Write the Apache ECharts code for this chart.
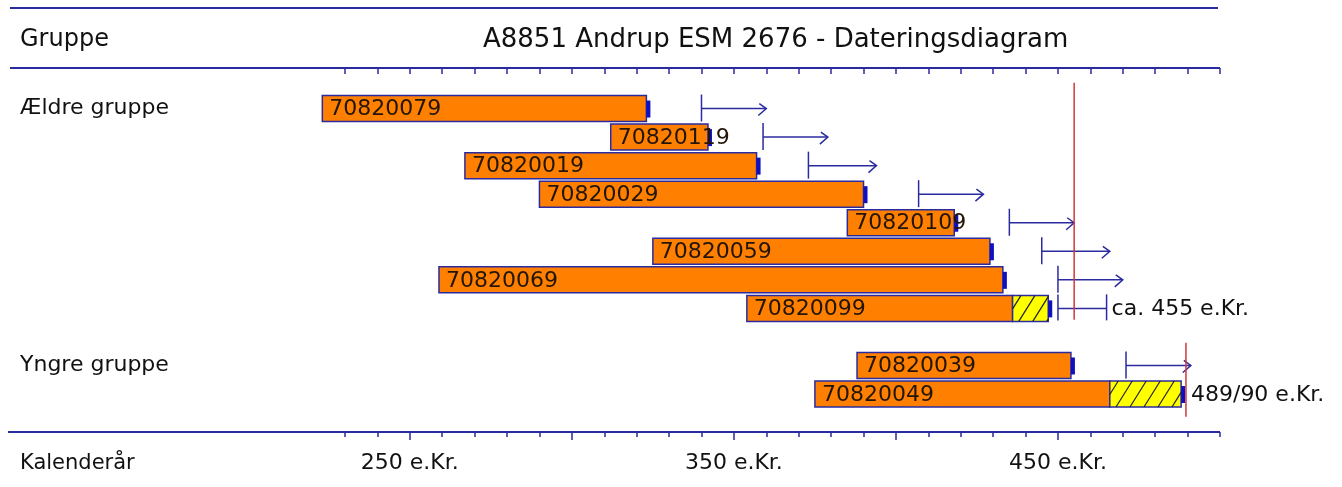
<!DOCTYPE html>
<html>
<head>
<meta charset="utf-8">
<script src="https://cdn.jsdelivr.net/npm/echarts@6/dist/echarts.min.js"></script>
<style>
  html, body { margin: 0; padding: 0; background: #fff; }
  #main { width: 1342px; height: 487px; }
</style>
</head>
<body>
<div id="main"></div>
<script>
// samples (one row each), rows 0-7 = Ældre gruppe, 9-10 = Yngre gruppe
var sampleIds = ['70820079', '70820119', '70820019', '70820029', '70820109', '70820059', '70820069', '70820099', '70820039', '70820049'];
var sampleRows = [0, 1, 2, 3, 4, 5, 6, 7, 9, 10];
var startYears = [223, 312, 267, 290, 385, 325, 259, 354, 388, 375];
var endYears = [323, 342, 357, 390, 418, 429, 433, 436, 454, 466];
var sapEndYears = [0, 0, 0, 0, 0, 0, 0, 447, 0, 488]; // 0 = no sapwood
// "felled after" arrows
var arrowRows = [0, 1, 2, 3, 4, 5, 6, 9];
var arrowFrom = [340, 359, 373, 407, 435, 445, 450, 471];
var arrowTo = [360, 379, 394, 427, 455, 466, 470, 491];
// felling interval bracket
var bracketRows = [7];
var bracketFrom = [450];
var bracketTo = [465];
// felling dates (red lines)
var fellingYears = [455, 489.5];
var fellingRowFrom = [-0.9, 8.2];
var fellingRowTo = [7.4, 10.8];
var fellingTexts = ['ca. 455 e.Kr.', '489/90 e.Kr.'];
var fellingTextYears = [465, 489.5];
var fellingTextRows = [7, 10];

var groupNames = ['Ældre gruppe', 'Yngre gruppe'];
var groupRows = [0, 9];
var yearLabels = [250, 350, 450];
var majorTicks = [250, 300, 350, 400, 450];

var NAVY = '#2b2ba0';
var FONT = 'DejaVu Sans';

var chart = echarts.init(document.getElementById('main'));

function renderSample(params, api) {
  var s = api.value(0), e = api.value(1), sap = api.value(2), r = api.value(3);
  var p0 = api.coord([s, r]);
  var p1 = api.coord([e, r]);
  var h = 26;
  var cy = p0[1];
  var y0 = cy - h / 2;
  var kids = [];
  var endX = p1[0];
  kids.push({
    type: 'rect',
    shape: { x: p0[0], y: y0, width: p1[0] - p0[0], height: h },
    style: { fill: '#ff8000', stroke: NAVY, lineWidth: 1.5 }
  });
  if (sap > 0) {
    var p2 = api.coord([sap, r]);
    var x0 = p1[0], x1 = p2[0], yt = y0, yb = y0 + h;
    kids.push({
      type: 'rect',
      shape: { x: x0, y: yt, width: x1 - x0, height: h },
      style: { fill: '#ffff00', stroke: NAVY, lineWidth: 1.5 }
    });
    // hatch "/"
    var k = 1.6, step = 14 * k;
    for (var c = k * x0 + yt + step * 0.6; c < k * x1 + yb; c += step) {
      var xa = Math.max(x0, (c - yb) / k);
      var xb = Math.min(x1, (c - yt) / k);
      if (xb > xa) {
        kids.push({
          type: 'line',
          shape: { x1: xa, y1: c - k * xa, x2: xb, y2: c - k * xb },
          style: { stroke: '#202020', lineWidth: 1.2 }
        });
      }
    }
    endX = x1;
  }
  kids.push({
    type: 'rect',
    shape: { x: endX, y: cy - 8, width: 4, height: 17 },
    style: { fill: '#1010c0' }
  });
  kids.push({
    type: 'text',
    style: {
      x: p0[0] + 7, y: cy + 1, text: sampleIds[params.dataIndex],
      fill: '#231508', font: '22px "' + FONT + '"',
      verticalAlign: 'middle', align: 'left'
    },
    z2: 10
  });
  return { type: 'group', children: kids };
}

function renderArrow(params, api) {
  var a = api.coord([api.value(0), api.value(2)]);
  var b = api.coord([api.value(1), api.value(2)]);
  var st = { stroke: NAVY, lineWidth: 1.5 };
  return {
    type: 'group',
    children: [
      { type: 'line', shape: { x1: a[0], y1: a[1] - 14, x2: a[0], y2: a[1] + 13 }, style: st },
      { type: 'line', shape: { x1: a[0], y1: a[1], x2: b[0], y2: b[1] }, style: st },
      { type: 'polyline', shape: { points: [[b[0] - 7, b[1] - 5], [b[0], b[1]], [b[0] - 8, b[1] + 7]] }, style: { stroke: NAVY, lineWidth: 1.5, fill: null } }
    ]
  };
}

function renderBracket(params, api) {
  var a = api.coord([api.value(0), api.value(2)]);
  var b = api.coord([api.value(1), api.value(2)]);
  var st = { stroke: NAVY, lineWidth: 1.5 };
  return {
    type: 'group',
    children: [
      { type: 'line', shape: { x1: a[0], y1: a[1] - 14, x2: a[0], y2: a[1] + 12 }, style: st },
      { type: 'line', shape: { x1: b[0], y1: b[1] - 14, x2: b[0], y2: b[1] + 12 }, style: st },
      { type: 'line', shape: { x1: a[0], y1: a[1], x2: b[0], y2: b[1] }, style: st }
    ]
  };
}

function renderFelling(params, api) {
  var i = params.dataIndex;
  var a = api.coord([api.value(0), api.value(1)]);
  var b = api.coord([api.value(0), api.value(2)]);
  var t = api.coord([api.value(3), api.value(4)]);
  return {
    type: 'group',
    children: [
      { type: 'line', shape: { x1: a[0], y1: a[1], x2: b[0], y2: b[1] }, style: { stroke: '#d03838', lineWidth: 1.5 }, z2: 20 },
      { type: 'text', style: { x: t[0] + 5, y: t[1] + 1, text: fellingTexts[i], fill: '#111', font: '22px "' + FONT + '"', verticalAlign: 'middle' } }
    ]
  };
}

var sampleData = sampleIds.map(function (id, i) {
  return [startYears[i], endYears[i], sapEndYears[i], sampleRows[i]];
});
var arrowData = arrowRows.map(function (r, i) { return [arrowFrom[i], arrowTo[i], r]; });
var bracketData = bracketRows.map(function (r, i) { return [bracketFrom[i], bracketTo[i], r]; });
var fellingData = fellingYears.map(function (y, i) {
  return [y, fellingRowFrom[i], fellingRowTo[i], fellingTextYears[i], fellingTextRows[i]];
});

var option = {
  animation: false,
  backgroundColor: '#fff',
  title: {
    text: 'A8851 Andrup ESM 2676 - Dateringsdiagram',
    left: 478,
    top: 22,
    textStyle: { fontFamily: FONT, fontSize: 26, fontWeight: 'normal', color: '#111' }
  },
  grid: { left: 345, right: 122, top: 68, bottom: 55 },
  xAxis: [{
    type: 'value', position: 'bottom', min: 230, max: 500, interval: 10,
    axisLine: { show: false, onZero: false },
    axisTick: { show: true, length: 5, lineStyle: { color: NAVY, width: 1.5 } },
    axisLabel: {
      customValues: yearLabels, margin: 20,
      formatter: function (v) { return v + ' e.Kr.'; },
      fontFamily: FONT, fontSize: 22, color: '#111'
    },
    splitLine: { show: false }
  }, {
    type: 'value', position: 'bottom', min: 230, max: 500,
    axisLine: { show: false, onZero: false },
    axisTick: { show: true, customValues: majorTicks, length: 8, lineStyle: { color: NAVY, width: 1.5 } },
    axisLabel: { show: false },
    splitLine: { show: false }
  }, {
    type: 'value', position: 'top', min: 230, max: 500, interval: 10,
    axisLine: { show: false, onZero: false },
    axisTick: { show: true, inside: true, length: 6, lineStyle: { color: NAVY, width: 1.5 } },
    axisLabel: { show: false },
    splitLine: { show: false }
  }],
  yAxis: {
    type: 'value', inverse: true, min: -1.42, max: 11.33,
    axisLine: { show: false, onZero: false }, axisTick: { show: false }, splitLine: { show: false },
    axisLabel: {
      customValues: groupRows, align: 'left', margin: 325,
      formatter: function (v) { return groupNames[groupRows.indexOf(v)]; },
      fontFamily: FONT, fontSize: 22, color: '#111'
    }
  },
  graphic: [
    { type: 'line', shape: { x1: 10, y1: 8, x2: 1218, y2: 8 }, style: { stroke: NAVY, lineWidth: 2 } },
    { type: 'line', shape: { x1: 10, y1: 68, x2: 1220, y2: 68 }, style: { stroke: NAVY, lineWidth: 2 } },
    { type: 'line', shape: { x1: 8, y1: 432, x2: 1220, y2: 432 }, style: { stroke: NAVY, lineWidth: 2 } },
    { type: 'text', left: 20, top: 28, style: { text: 'Gruppe', font: '24px "' + FONT + '"', fill: '#111' } },
    { type: 'text', left: 20, top: 453, style: { text: 'Kalenderår', font: '21px "' + FONT + '"', fill: '#111' } }
  ],
  series: [{
    type: 'custom', renderItem: renderSample, data: sampleData, clip: false,
    encode: { x: [0, 1, 2], y: 3 }
  }, {
    type: 'custom', renderItem: renderArrow, data: arrowData, clip: false,
    encode: { x: [0, 1], y: 2 }
  }, {
    type: 'custom', renderItem: renderBracket, data: bracketData, clip: false,
    encode: { x: [0, 1], y: 2 }
  }, {
    type: 'custom', renderItem: renderFelling, data: fellingData, clip: false, z: 5,
    encode: { x: [0, 3], y: [1, 2] }
  }]
};

chart.setOption(option);
</script>
</body>
</html>
